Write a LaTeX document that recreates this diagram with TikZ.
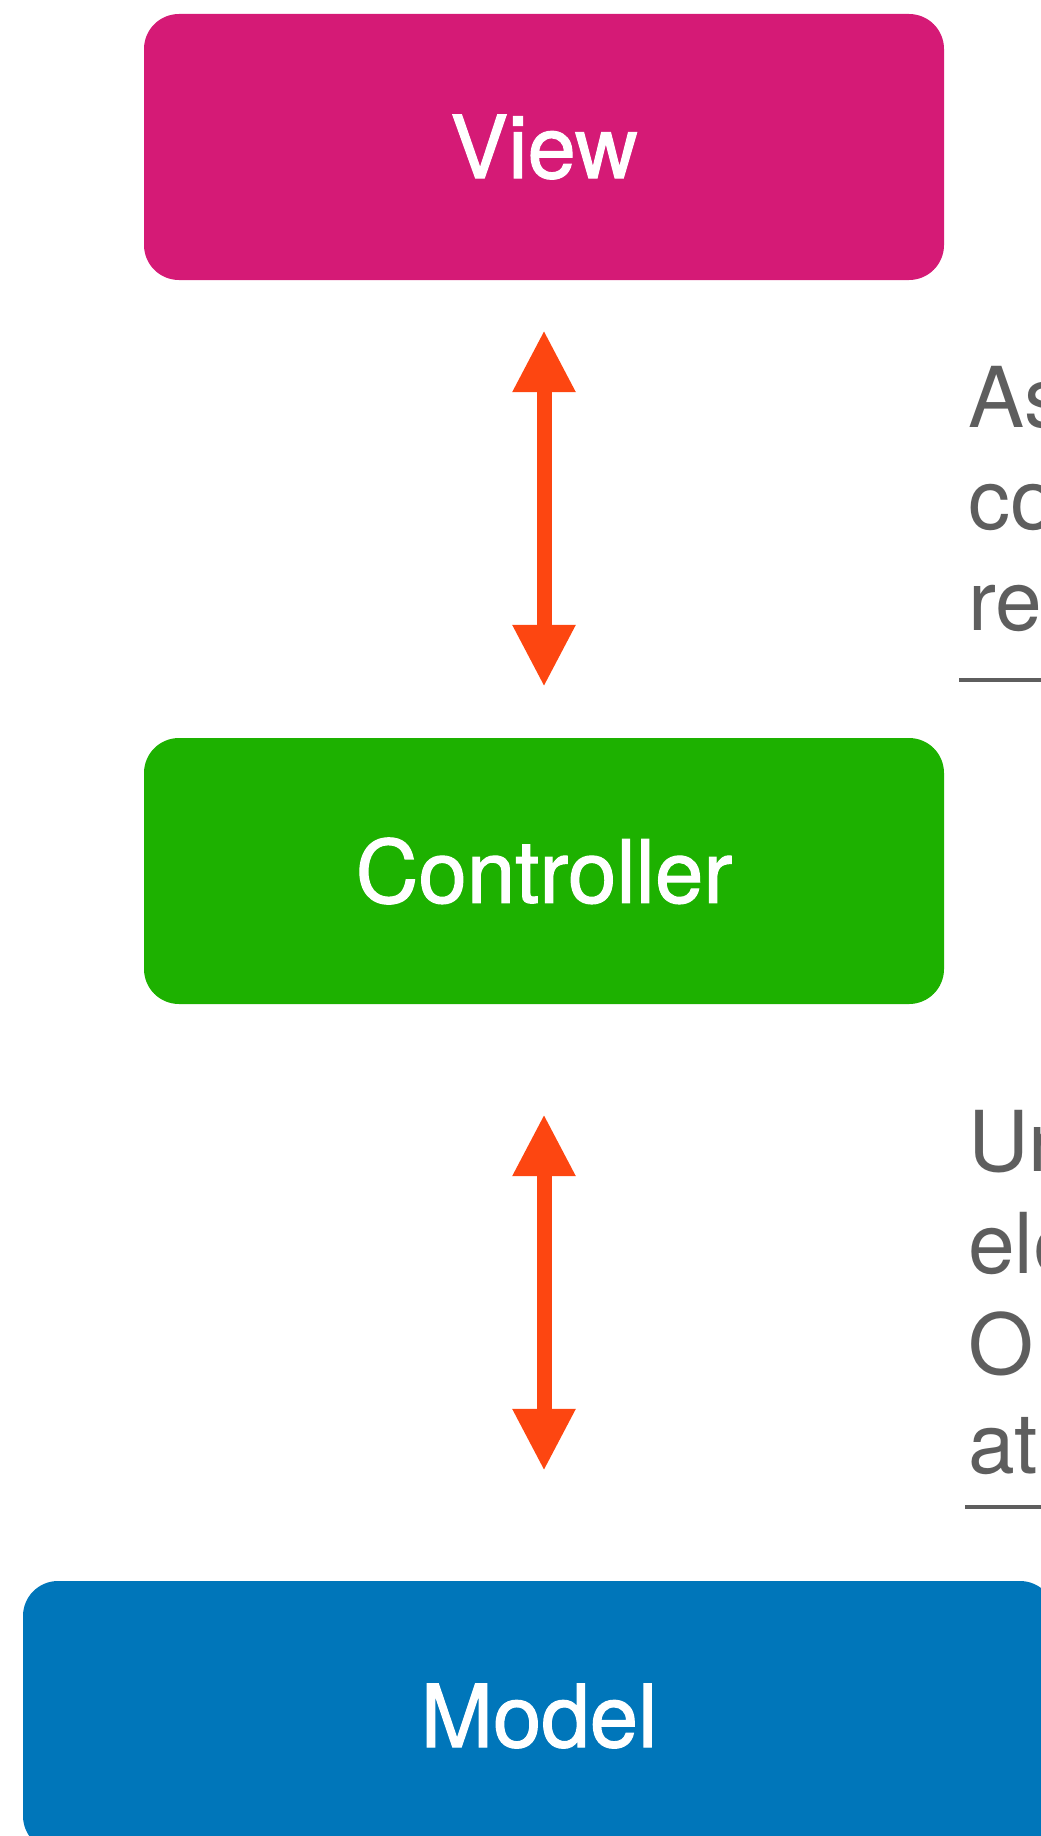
\documentclass[tikz,border=0pt]{standalone}
\usepackage{fontspec}
\setmainfont{TeX Gyre Heros}
\newfontfamily\labelfont[FakeBold=1.3]{TeX Gyre Heros}
\usetikzlibrary{arrows.meta}

\definecolor{viewcol}{HTML}{D51A76}
\definecolor{ctrlcol}{HTML}{1DB100}
\definecolor{modelcol}{HTML}{0076BA}
\definecolor{arrowcol}{HTML}{FD4611}
\definecolor{notecol}{HTML}{5E5E5E}

\tikzset{
  layer/.style={rounded corners=35pt, inner sep=0pt, text=white,
    font=\labelfont\fontsize{87}{100}\selectfont},
  biarrow/.style={arrowcol, line width=15pt,
    {Triangle[width=59pt,length=62pt]}-{Triangle[width=59pt,length=62pt]}},
  note/.style={anchor=base west, inner sep=0pt, text=notecol,
    font=\fontsize{84}{100}\selectfont},
  rule/.style={notecol, line width=4pt}
}

\begin{document}
\begin{tikzpicture}[x=1pt,y=-1pt]
  \useasboundingbox (0,0) rectangle (1041,1836);

  % the three layers
  \node[layer, fill=viewcol, minimum width=800pt, minimum height=266pt]
    (view) at (544,147) {View};
  \node[layer, fill=ctrlcol, minimum width=800pt, minimum height=266pt]
    (ctrl) at (544,871) {Controller};
  \node[layer, fill=modelcol, minimum width=1032pt, minimum height=270pt]
    (model) at (539,1716) {Model};

  % two-way links between the layers
  \draw[biarrow, shorten <=50pt, shorten >=51pt] (view.south) -- (ctrl.north);
  \draw[biarrow, shorten <=110pt, shorten >=110pt]
    (ctrl.south) -- (ctrl.south |- model.north);

  % side notes
  \node[note] (n1a) at (968,427) {As};
  \node[note] (n1b) at (968,529) {co};
  \node[note] (n1c) at (968,630) {re};
  \coordinate (r1a) at (959,680);
  \coordinate (r1b) at (1060,680);
  \draw[rule] (r1a) -- (r1b);

  \node[note] (n2a) at (968,1171) {Un};
  \node[note] (n2b) at (968,1273) {ele};
  \node[note] (n2c) at (968,1374) {O};
  \node[note] (n2d) at (968,1473) {at};
  \coordinate (r2a) at (965,1507);
  \coordinate (r2b) at (1060,1507);
  \draw[rule] (r2a) -- (r2b);
\end{tikzpicture}
\end{document}
